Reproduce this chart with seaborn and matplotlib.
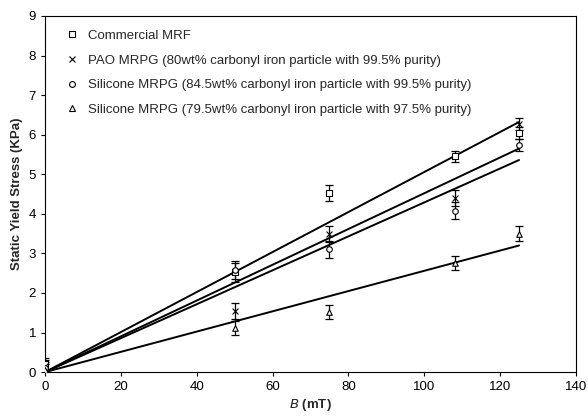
import matplotlib
matplotlib.use("Agg")
import matplotlib.pyplot as plt
import seaborn as sns
import pandas as pd
from matplotlib.lines import Line2D

# ---- data ----
B_field = [0, 50, 75, 108, 125]
series_names = [
    "Commercial MRF",
    "PAO MRPG (80wt% carbonyl iron particle with 99.5% purity)",
    "Silicone MRPG (84.5wt% carbonyl iron particle with 99.5% purity)",
    "Silicone MRPG (79.5wt% carbonyl iron particle with 97.5% purity)",
]
commercial = [0.20, 2.52, 4.52, 5.45, 6.04]
pao = [0.15, 1.55, 3.50, 4.40, 6.27]
sil_845 = [0.10, 2.58, 3.10, 4.08, 5.75]
sil_795 = [0.05, 1.12, 1.52, 2.76, 3.50]
commercial_err = [0.15, 0.25, 0.20, 0.15, 0.15]
pao_err = [0.15, 0.20, 0.20, 0.20, 0.15]
sil_845_err = [0.15, 0.22, 0.22, 0.22, 0.15]
sil_795_err = [0.15, 0.17, 0.17, 0.17, 0.18]
# fitted lines: value at start (0 mT) and at end (125 mT)
fit_x = [0, 125]
fit_commercial = [0, 6.32]
fit_pao = [0, 5.65]
fit_sil_845 = [0, 5.36]
fit_sil_795 = [0, 3.20]

values = [commercial, pao, sil_845, sil_795]
errors = [commercial_err, pao_err, sil_845_err, sil_795_err]
fits = [fit_commercial, fit_pao, fit_sil_845, fit_sil_795]
marker_styles = ["s", "x", "o", "^"]

sns.set_theme(style="ticks")
plt.rcParams["font.family"] = ["Liberation Sans", "DejaVu Sans"]

fig = plt.figure(figsize=(5.88, 4.2), dpi=100)
ax = fig.add_axes([0.0765, 0.114, 0.903, 0.848])

for fy in fits:
    sns.lineplot(x=fit_x, y=fy, ax=ax, color="black", lw=1.4, legend=False)

for name, vals, errs, m in zip(series_names, values, errors, marker_styles):
    ax.errorbar(B_field, vals, yerr=errs, fmt="none", ecolor="black",
                elinewidth=0.9, capsize=3, capthick=0.9, zorder=3)
    df = pd.DataFrame({"B": B_field, "tau": vals})
    if m == "x":
        sns.scatterplot(data=df, x="B", y="tau", marker=m, s=18, color="black",
                        linewidth=0.8, ax=ax, zorder=4, legend=False)
    else:
        sns.scatterplot(data=df, x="B", y="tau", marker=m, s=16, facecolor="white",
                        edgecolor="black", linewidth=0.8, ax=ax, zorder=4, legend=False)

leg_handles = [Line2D([], [], ls="none", marker=m, markersize=4.2, markerfacecolor="none",
                      markeredgecolor="black", markeredgewidth=0.8) for m in marker_styles]
ax.legend(leg_handles, series_names, loc="upper left", bbox_to_anchor=(0.038, 0.962),
          frameon=False, fontsize=9.5, handlelength=1.0, handletextpad=0.7,
          labelspacing=0.95, borderaxespad=0, borderpad=0)

ax.set_xlim(0, 140)
ax.set_ylim(0, 9)
ax.set_xticks(range(0, 141, 20))
ax.set_yticks(range(0, 10))
ax.tick_params(labelsize=9.5, length=3, width=0.8, color="black", labelcolor="black", direction="out")
for sp in ax.spines.values():
    sp.set_visible(True)
    sp.set_color("black")
    sp.set_linewidth(0.8)
ax.set_xlabel(r"$\mathit{B}$ (mT)", fontsize=9.5, fontweight="bold", labelpad=3)
ax.set_ylabel("Static Yield Stress (KPa)", fontsize=9.5, fontweight="bold", labelpad=4)

fig.savefig("out.png", dpi=100)
